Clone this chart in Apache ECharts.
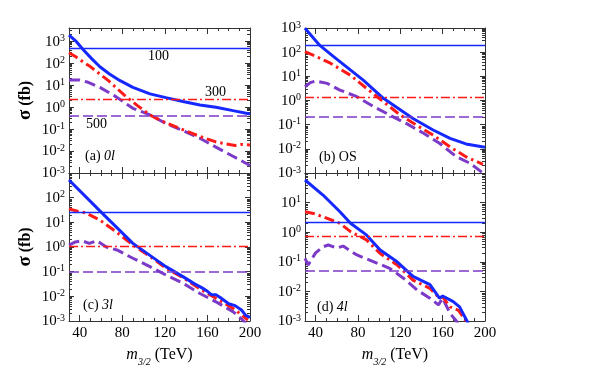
<!DOCTYPE html>
<html>
<head>
<meta charset="utf-8">
<script src="https://cdn.jsdelivr.net/npm/echarts@6/dist/echarts.min.js"></script>
<style>
html, body { margin: 0; padding: 0; background: #fff; }
#main { width: 598px; height: 381px; }
</style>
</head>
<body>
<div id="main"></div>
<script>
// tick labels
var xMajor = [40, 80, 120, 160, 200];
var xMinor = [40, 50, 60, 70, 80, 90, 100, 110, 120, 130, 140, 150, 160, 170, 180, 190];

// (a) 0l
var aBlue = [[30,1900],[37,950],[43,430],[51,166],[59,69],[68,32],[78,16],[90,7.9],[106,4.0],[121,2.7],[137,1.8],[153,1.25],[168,0.98],[184,0.69],[200,0.49]];
var aRed = [[30,300],[36,200],[43,117],[50,70],[59,32],[67,16],[74,7.9],[82,3.5],[94,1.2],[106,0.44],[120,0.2],[134,0.108],[153,0.046],[168,0.026],[178,0.021],[186,0.018],[192,0.02],[200,0.019]];
var aPurple = [[30,17],[40,17],[47,14],[59,7.9],[74,3.0],[90,0.88],[106,0.44],[121,0.18],[137,0.085],[153,0.038],[168,0.015],[184,0.0058],[200,0.0022]];
var aLimits = [500, 2.3, 0.41];

// (b) OS
var bBlue = [[30,970],[44,190],[57,65],[85,7],[104,1.23],[132,0.18],[151,0.06],[167,0.027],[182,0.016],[200,0.0116]];
var bRed = [[30,105],[41,65],[54,35],[73,11],[88,3.2],[102,1.05],[120,0.25],[135,0.097],[151,0.037],[167,0.012],[182,0.0047],[198,0.0023]];
var bPurple = [[30,3.7],[35,5.5],[40,6.4],[51,5.1],[63,2.7],[79,1.44],[95,0.55],[110,0.25],[126,0.11],[142,0.044],[157,0.017],[173,0.0047],[186,0.0025],[198,0.001]];
var bLimits = [185, 1.35, 0.21];

// (c) 3l
var cBlue = [[30,520],[59,29],[90,1.4],[121,0.16],[137,0.063],[148,0.032],[155,0.022],[160,0.016],[164,0.0115],[168,0.0115],[172,0.009],[180,0.005],[186,0.0042],[192,0.0028],[196,0.0017],[200,0.0014]];
var cRed = [[30,35],[38,28],[46,24],[59,12.4],[74,4.2],[90,1.2],[106,0.42],[121,0.14],[137,0.058],[153,0.02],[168,0.0083],[184,0.0033],[198,0.0011]];
var cPurple = [[30,1.2],[36,1.6],[42,1.8],[49,1.4],[56,1.8],[65,1.0],[75,0.76],[90,0.35],[106,0.16],[121,0.073],[137,0.034],[153,0.013],[168,0.006],[184,0.0024],[193,0.0011],[196,0.0008]];
var cLimits = [25, 1.1, 0.105];

// (d) 4l
var dBlue = [[30,58],[47,18],[63,4.9],[73,2.0],[88,0.81],[101,0.25],[117,0.1],[132,0.032],[148,0.017],[157,0.0059],[160,0.007],[170,0.0045],[176,0.003],[183,0.001],[185,0.0007]];
var dRed = [[30,4.9],[38,4.3],[47,3.3],[63,2.0],[73,1.04],[88,0.55],[101,0.19],[117,0.078],[132,0.024],[148,0.0127],[157,0.0059],[160,0.0065],[167,0.003],[175,0.0023],[182,0.001],[184,0.0007]];
var dPurple = [[30,0.13],[33,0.078],[40,0.2],[47,0.32],[52,0.37],[60,0.29],[66,0.34],[79,0.17],[95,0.1],[110,0.06],[123,0.028],[136,0.011],[148,0.0059],[156,0.0035],[160,0.0059],[167,0.0018],[173,0.001],[175,0.0007]];
var dLimits = [2.1, 0.72, 0.048];

var SERIF = 'Liberation Serif';
var BLUE = '#1428ff', RED = '#ff1a1a', PURPLE = '#7b3ac8', AX = '#333';

var chart = echarts.init(document.getElementById('main'));

var grids = [
	{left: 69, top: 28, width: 181, height: 145},
	{left: 305, top: 28, width: 180, height: 145},
	{left: 69, top: 173, width: 181, height: 148},
	{left: 305, top: 173, width: 180, height: 148}
];
var yMax = [4000, 1000, 1000, 100];
var yLabelTop = [1000, 1000, 100, 10];
var curves = [[aBlue, aRed, aPurple], [bBlue, bRed, bPurple], [cBlue, cRed, cPurple], [dBlue, dRed, dPurple]];
var limits = [aLimits, bLimits, cLimits, dLimits];

function decades(top) {
	var out = [];
	for (var v = 0.001; v <= top * 1.001; v *= 10) out.push(+v.toPrecision(3));
	return out;
}
function minors(top) {
	var out = [];
	for (var d = 0.001; d < top; d *= 10) {
		for (var k = 2; k < 10; k++) {
			var v = +(k * d).toPrecision(3);
			if (v < top) out.push(v);
		}
	}
	return out;
}

var labelRich = {
	b: {fontFamily: SERIF, fontSize: 15, color: '#000', lineHeight: 16, verticalAlign: 'bottom'},
	s: {fontFamily: SERIF, fontSize: 10, color: '#000', lineHeight: 8, verticalAlign: 'top'}
};

var xAxes = [], yAxes = [], series = [];
grids.forEach(function (g, i) {
	var bottomRow = i >= 2, leftCol = i % 2 === 0;
	var xBase = {type: 'value', gridIndex: i, min: 30, max: 200, splitLine: {show: false}};
	xAxes.push(Object.assign({}, xBase, {
		position: 'bottom',
		axisLine: {onZero: false, lineStyle: {color: AX}},
		axisTick: {inside: true, length: 6, customValues: xMajor, lineStyle: {color: AX}},
		axisLabel: {show: bottomRow, customValues: xMajor, fontFamily: SERIF, fontSize: 15, color: '#000', margin: 5},
		name: bottomRow ? '{m|m}{u|3/2}{t| (TeV)}' : '',
		nameLocation: 'middle', nameGap: 26,
		nameTextStyle: {rich: {
			m: {fontFamily: SERIF, fontStyle: 'italic', fontSize: 16, color: '#000', lineHeight: 20, verticalAlign: 'top'},
			u: {fontFamily: SERIF, fontStyle: 'italic', fontSize: 10, color: '#000', lineHeight: 10, verticalAlign: 'bottom'},
			t: {fontFamily: SERIF, fontSize: 16, color: '#000', lineHeight: 20, verticalAlign: 'top'}
		}}
	}));
	xAxes.push(Object.assign({}, xBase, {position: 'bottom', axisLine: {show: false},
		axisTick: {inside: true, length: 3, customValues: xMinor, lineStyle: {color: AX}}, axisLabel: {show: false}}));
	xAxes.push(Object.assign({}, xBase, {position: 'top', axisLine: {onZero: false, lineStyle: {color: AX}},
		axisTick: {inside: true, length: 6, customValues: xMajor, lineStyle: {color: AX}}, axisLabel: {show: false}}));
	xAxes.push(Object.assign({}, xBase, {position: 'top', axisLine: {show: false},
		axisTick: {inside: true, length: 3, customValues: xMinor, lineStyle: {color: AX}}, axisLabel: {show: false}}));

	var yBase = {type: 'log', logBase: 10, gridIndex: i, min: 0.001, max: yMax[i], splitLine: {show: false}};
	var major = decades(yMax[i]), minor = minors(yMax[i]);
	yAxes.push(Object.assign({}, yBase, {
		position: 'left',
		axisLine: {onZero: false, lineStyle: {color: AX}},
		axisTick: {inside: true, length: 5, customValues: major, lineStyle: {color: AX}},
		axisLabel: {customValues: decades(yLabelTop[i]), margin: 4, rich: labelRich,
			formatter: function (v) { return '{b|10}{s|' + Math.round(Math.log10(v)) + '}'; }},
		name: leftCol ? '{g|σ}{t| (fb)}' : '',
		nameLocation: 'middle', nameGap: 34,
		nameTextStyle: {rich: {
			g: {fontFamily: SERIF, fontSize: 19, fontWeight: 'bold', color: '#000'},
			t: {fontFamily: SERIF, fontSize: 16, fontWeight: 'bold', color: '#000'}
		}}
	}));
	yAxes.push(Object.assign({}, yBase, {position: 'left', axisLine: {show: false},
		axisTick: {inside: true, length: 3, customValues: minor, lineStyle: {color: AX}}, axisLabel: {show: false}}));
	yAxes.push(Object.assign({}, yBase, {position: 'right', axisLine: {onZero: false, lineStyle: {color: AX}},
		axisTick: {inside: true, length: 5, customValues: major, lineStyle: {color: AX}}, axisLabel: {show: false}}));
	yAxes.push(Object.assign({}, yBase, {position: 'right', axisLine: {show: false},
		axisTick: {inside: true, length: 3, customValues: minor, lineStyle: {color: AX}}, axisLabel: {show: false}}));

	var styles = [
		{color: BLUE, type: 'solid', thin: 'solid', tw: 1.3},
		{color: RED, type: [10, 4, 2.5, 4], thin: [9, 3, 2, 3], tw: 1.3},
		{color: PURPLE, type: [11, 5], thin: [10, 4], tw: 1.6}
	];
	curves[i].forEach(function (data, k) {
		var s = styles[k];
		series.push({
			type: 'line', xAxisIndex: i * 4, yAxisIndex: i * 4, data: data,
			symbol: 'none', silent: true, z: 3 - k,
			lineStyle: {color: s.color, width: 3, type: s.type},
			markLine: {silent: true, symbol: 'none', label: {show: false},
				lineStyle: {color: s.color, width: s.tw, type: s.thin},
				data: [{yAxis: limits[i][k]}]}
		});
	});
});

function txt(x, y, text, rich) {
	return {type: 'text', x: x, y: y, style: {text: text, rich: rich, fill: '#000', textVerticalAlign: 'middle'}};
}
var nrm = {fontFamily: SERIF, fontSize: 14, color: '#000'};
var ita = {fontFamily: SERIF, fontSize: 14, fontStyle: 'italic', color: '#000'};
var panelTags = [
	txt(85, 156, '{n|(a) }{i|0l}', {n: nrm, i: ita}),
	txt(319, 157, '{n|(b) OS}', {n: nrm}),
	txt(83, 305, '{n|(c) }{i|3l}', {n: nrm, i: ita}),
	txt(317, 307, '{n|(d) }{i|4l}', {n: nrm, i: ita}),
	txt(148, 56, '{n|100}', {n: {fontFamily: SERIF, fontSize: 14, color: BLUE}}),
	txt(205, 92, '{n|300}', {n: {fontFamily: SERIF, fontSize: 14, color: RED}}),
	txt(86, 124, '{n|500}', {n: {fontFamily: SERIF, fontSize: 14, color: PURPLE}})
];

chart.setOption({
	animation: false,
	backgroundColor: '#fff',
	grid: grids,
	xAxis: xAxes,
	yAxis: yAxes,
	series: series,
	graphic: panelTags
});
</script>
</body>
</html>
